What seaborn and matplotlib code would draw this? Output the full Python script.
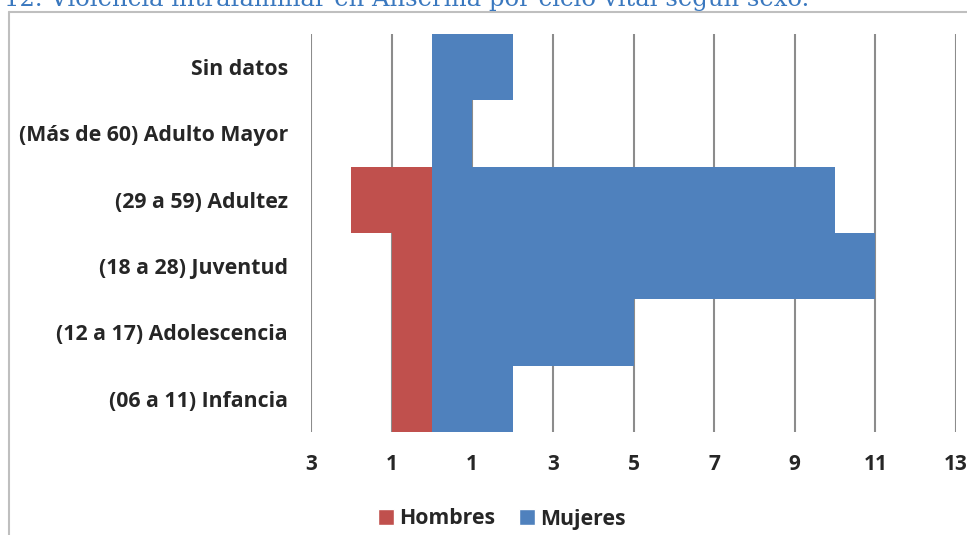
import matplotlib
matplotlib.use("Agg")
import matplotlib.pyplot as plt
import seaborn as sns
import pandas as pd
from matplotlib.lines import Line2D
from matplotlib.patches import Patch

categories = ["Sin datos", "(Más de 60) Adulto Mayor", "(29 a 59) Adultez",
              "(18 a 28) Juventud", "(12 a 17) Adolescencia", "(06 a 11) Infancia"]
hombres = [0, 0, 2, 1, 1, 1]
mujeres = [2, 1, 10, 11, 5, 2]
tick_values = [-3, -1, 1, 3, 5, 7, 9, 11, 13]
tick_labels = ["3", "1", "1", "3", "5", "7", "9", "11", "13"]
title = "12. Violencia intrafamiliar en Anserma por ciclo vital según sexo."

sns.set_style("white")
plt.rcParams["font.family"] = ["Open Sans", "DejaVu Sans"]

df = pd.DataFrame({
    "Grupo": categories * 2,
    "Valor": [-h for h in hombres] + mujeres,
    "Sexo": ["Hombres"] * len(categories) + ["Mujeres"] * len(categories),
})
colors = {"Hombres": "#C0504D", "Mujeres": "#4F81BD"}

fig = plt.figure(figsize=(9.67, 5.35), dpi=100)
ax = fig.add_axes([311 / 967, 1 - 432 / 535, (956 - 311) / 967, (432 - 34) / 535])

for x in tick_values:
    ax.axvline(x, color="#8C8C8C", lw=1.5, zorder=0)

sns.barplot(data=df, y="Grupo", x="Valor", hue="Sexo", order=categories,
            palette=colors, dodge=False, width=1.0, orient="h",
            linewidth=0, saturation=1, ax=ax, legend=False, zorder=2)

ax.set_xlim(-3, 13)
ax.set_xticks(tick_values)
ax.set_xticklabels(tick_labels, fontsize=15, fontweight="bold")
ax.tick_params(axis="x", length=0, pad=16)
ax.tick_params(axis="y", length=0, pad=16.5)
for lab in ax.get_yticklabels():
    lab.set_fontsize(15.3)
    lab.set_fontweight("bold")
ax.set_xlabel("")
ax.set_ylabel("")
for s in ax.spines.values():
    s.set_visible(False)

handles = [Patch(facecolor=colors["Hombres"], label="Hombres"),
           Patch(facecolor=colors["Mujeres"], label="Mujeres")]
fig.legend(handles=handles, loc="center", bbox_to_anchor=(502 / 967, 1 - 519 / 535),
           ncol=2, frameon=False, handlelength=0.75, handleheight=0.75,
           handletextpad=0.25, columnspacing=1.1,
           prop={"family": "Open Sans", "weight": "bold", "size": 15.3})

# chart frame
fig.add_artist(Line2D([9 / 967, 1], [1 - 12 / 535, 1 - 12 / 535], color="#BFBFBF", lw=1.5,
                      transform=fig.transFigure))
fig.add_artist(Line2D([9 / 967, 9 / 967], [0, 1 - 12 / 535], color="#BFBFBF", lw=1.5,
                      transform=fig.transFigure))

fig.text(4 / 967, 1 - 6 / 535, title, fontsize=17.5, color="#3A78BF",
         family="DejaVu Serif", va="baseline", ha="left")

fig.savefig("out.png", dpi=100)
